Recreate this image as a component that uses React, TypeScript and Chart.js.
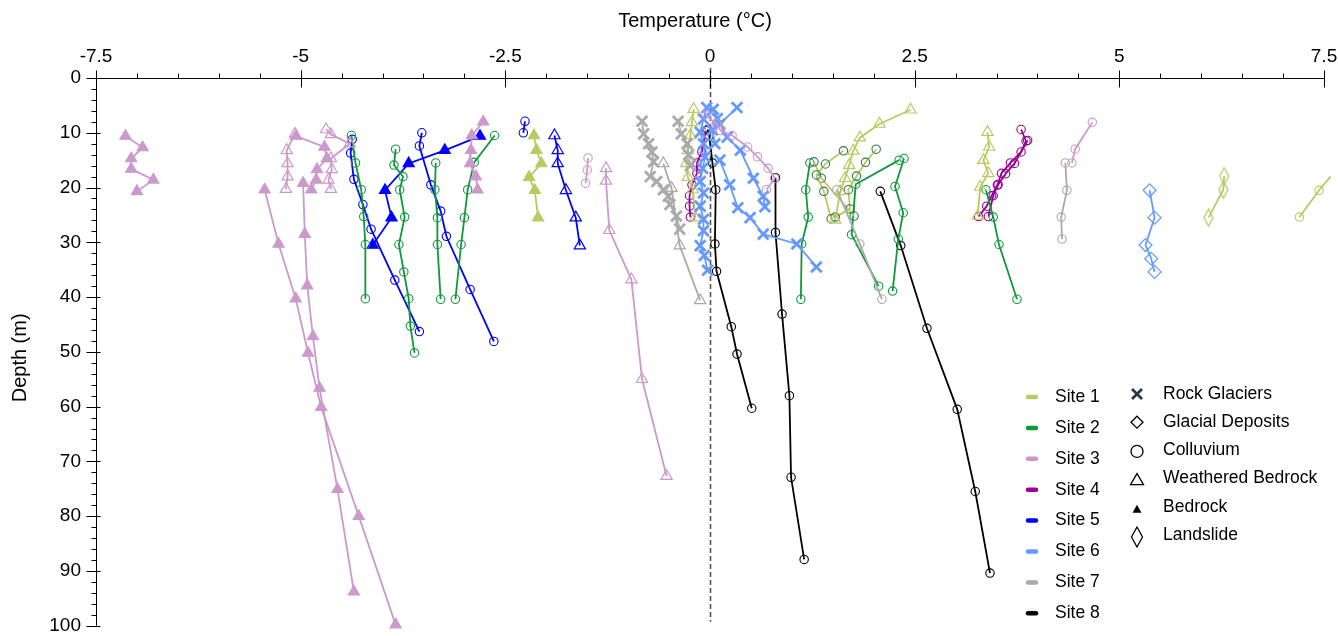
import React, { useEffect, useRef } from "react";
import { Chart, registerables } from "chart.js";
Chart.register(...registerables);

// ---------- axis / legend text ----------
const xTickValues = [-7.5, -5, -2.5, 0, 2.5, 5, 7.5];
const xTickLabels = ["-7.5", "-5", "-2.5", "0", "2.5", "5", "7.5"];
const yTickValues = [0, 10, 20, 30, 40, 50, 60, 70, 80, 90, 100];
const yTickLabels = ["0", "10", "20", "30", "40", "50", "60", "70", "80", "90", "100"];
const xTitle = "Temperature (°C)";
const yTitle = "Depth (m)";
const siteNames = ["Site 1", "Site 2", "Site 3", "Site 4", "Site 5", "Site 6", "Site 7", "Site 8"];
const siteColors = ["#B9CA62", "#0E9A3A", "#CC99CC", "#990099", "#0000FF", "#6699FF", "#AAAAAA", "#000000"];
const geologyNames = ["Rock Glaciers", "Glacial Deposits", "Colluvium", "Weathered Bedrock", "Bedrock", "Landslide"];

// ---------- Site 1 ----------
const s1BrT = [-2.15, -2.12, -2.06, -2.21, -2.14, -2.10];
const s1BrD = [10.5, 13.2, 15.6, 18.1, 20.5, 25.5];
const s1WbAT = [-0.20, -0.22, -0.24, -0.27, -0.29, -0.27, -0.21, -0.18];
const s1WbAD = [5.7, 8.1, 10.5, 13.2, 15.6, 18.1, 20.4, 25.5];
const s1WbBT = [2.45, 2.07, 1.83, 1.75, 1.70, 1.65, 1.59, 1.53];
const s1WbBD = [5.8, 8.4, 10.9, 13.3, 15.9, 18.3, 20.7, 25.9];
const s1WbCT = [3.39, 3.41, 3.34, 3.40, 3.30, 3.27];
const s1WbCD = [9.9, 12.6, 15.0, 17.4, 19.9, 25.2];
const s1CoAT = [1.63, 1.41, 1.30, 1.39, 1.48];
const s1CoAD = [13.3, 15.7, 17.7, 20.7, 25.7];
const s1CoBT = [2.03, 1.90, 1.79, 1.69, 1.71, 1.53];
const s1CoBD = [13.0, 15.4, 17.9, 20.4, 23.9, 25.4];
const s1CoCT = [1.27, 1.36, 1.76];
const s1CoCD = [15.3, 18.3, 25.2];
const s1CoDT = [7.58, 7.44, 7.20];
const s1CoDD = [18.0, 20.5, 25.4];
const s1LsT = [6.28, 6.27, 6.09];
const s1LsD = [17.9, 20.4, 25.5];

// ---------- Site 2 ----------
const s2CoAT = [-4.38, -4.33, -4.26, -4.23, -4.21, -4.21];
const s2CoAD = [10.5, 15.5, 20.4, 25.3, 30.4, 40.3];
const s2CoBT = [-3.84, -3.86, -3.75, -3.79, -3.73, -3.80, -3.74, -3.68, -3.66, -3.61];
const s2CoBD = [13.0, 15.9, 18.0, 20.4, 25.4, 30.4, 35.4, 40.3, 45.3, 50.2];
const s2CoCT = [-3.35, -3.36, -3.33, -3.33, -3.29];
const s2CoCD = [15.5, 20.4, 25.5, 30.4, 40.4];
const s2CoDT = [-2.63, -2.88, -2.96, -3.00, -3.04, -3.11];
const s2CoDD = [10.5, 15.4, 20.4, 25.5, 30.4, 40.4];
const s2CoET = [1.22, 1.17, 1.20, 1.12, 1.11];
const s2CoED = [15.5, 20.4, 25.4, 30.3, 40.4];
const s2CoFT = [2.31, 1.78, 1.73, 2.06];
const s2CoFD = [15.0, 19.4, 28.6, 38.0];
const s2CoGT = [2.37, 2.26, 2.36, 2.30, 2.23];
const s2CoGD = [14.7, 19.8, 24.6, 29.4, 38.9];
const s2CoHT = [3.37, 3.46, 3.53, 3.75];
const s2CoHD = [20.4, 25.4, 30.4, 40.4];

// ---------- Site 3 ----------
const s3BrAT = [-7.14, -6.93, -7.07, -7.07, -6.80, -7.00];
const s3BrAD = [10.6, 12.7, 14.7, 16.6, 18.6, 20.7];
const s3WbAT = [-5.07, -5.17, -5.16, -5.16, -5.18];
const s3WbAD = [10.2, 13.2, 15.6, 18.0, 20.3];
const s3BrBT = [-5.06, -4.71, -4.68, -4.80, -4.81, -4.87];
const s3BrBD = [10.6, 12.6, 14.7, 16.7, 18.6, 20.4];
const s3WbBT = [-4.69, -4.63, -4.40, -4.63, -4.62, -4.66, -4.63];
const s3WbBD = [9.4, 10.3, 12.0, 14.7, 16.7, 18.6, 20.3];
const s3BrCT = [-5.44, -5.27, -5.06, -4.91, -4.75, -4.29, -3.84];
const s3BrCD = [20.4, 30.3, 40.3, 50.2, 60.1, 80.0, 99.8];
const s3BrDT = [-4.97, -4.95, -4.92, -4.85, -4.77, -4.55, -4.35];
const s3BrDD = [19.2, 28.5, 37.9, 47.2, 56.6, 75.1, 93.8];
const s3BrET = [-2.77, -2.91, -2.92, -2.93, -2.86, -2.84];
const s3BrED = [8.0, 10.5, 13.2, 15.6, 18.0, 20.4];
const s3WbCT = [-1.27, -1.27, -1.23, -0.96, -0.83, -0.53];
const s3WbCD = [16.5, 18.8, 27.8, 36.8, 55.0, 72.7];
const s3CoAT = [-1.49, -1.50, -1.52];
const s3CoAD = [14.6, 16.8, 19.2];
const s3CoBT = [-0.05, 0.08, 0.13, 0.27, 0.46, 0.58, 0.71, 0.79, 0.69];
const s3CoBD = [6.7, 8.4, 9.6, 10.5, 12.6, 14.4, 16.5, 18.3, 20.4];
const s3CoCT = [4.67, 4.46, 4.42];
const s3CoCD = [8.1, 13.0, 15.5];

// ---------- Site 4 ----------
const s4CoAT = [-0.05, -0.10, -0.16, -0.16, -0.22, -0.25, -0.25, -0.24];
const s4CoAD = [9.6, 13.5, 15.5, 17.4, 19.5, 21.5, 23.4, 25.4];
const s4CoBT = [3.80, 3.86, 3.80, 3.67, 3.56, 3.51, 3.44, 3.38, 3.28];
const s4CoBD = [9.4, 11.5, 13.5, 15.5, 17.4, 19.5, 21.5, 23.4, 25.3];
const s4CoCT = [3.88, 3.72, 3.61, 3.52, 3.46, 3.40];
const s4CoCD = [11.4, 15.6, 17.5, 19.5, 21.5, 25.3];

// ---------- Site 5 ----------
const s5BrT = [-2.81, -3.24, -3.68, -3.97, -3.89, -4.12];
const s5BrD = [10.6, 13.2, 15.6, 20.5, 25.5, 30.5];
const s5CoAT = [-4.37, -4.39, -4.35, -4.24, -4.14, -3.85, -3.55];
const s5CoAD = [11.2, 13.7, 18.5, 23.1, 27.6, 36.9, 46.3];
const s5CoBT = [-3.52, -3.55, -3.41, -3.29, -3.22, -2.93, -2.64];
const s5CoBD = [10.0, 12.4, 19.5, 24.3, 28.9, 38.6, 48.1];
const s5CoCT = [-2.26, -2.28];
const s5CoCD = [7.9, 10.0];
const s5WbT = [-1.90, -1.86, -1.86, -1.76, -1.64, -1.59];
const s5WbD = [10.5, 13.2, 15.6, 20.5, 25.5, 30.6];

// ---------- Site 6 ----------
const s6RgAT = [-0.04, -0.08, -0.12, -0.08, -0.06, -0.09, -0.12, -0.08, -0.12, -0.08, -0.08, -0.12, -0.07, -0.03];
const s6RgAD = [5.4, 7.5, 9.9, 12.0, 14.4, 16.5, 18.9, 21.0, 23.4, 25.8, 27.9, 30.6, 32.4, 35.1];
const s6RgBT = [0.33, 0.12, 0.21, 0.37, 0.53, 0.65, 0.67];
const s6RgBD = [5.4, 8.4, 10.8, 13.2, 18.3, 21.6, 23.5];
const s6RgCT = [0.04, 0.09, 0.03, 0.06];
const s6RgCD = [5.7, 7.4, 9.5, 12.0];
const s6RgDT = [0.12, 0.24, 0.34, 0.49, 0.65, 1.06, 1.30];
const s6RgDD = [15.0, 19.5, 23.7, 25.5, 28.5, 30.3, 34.5];
const s6GdT = [5.37, 5.43, 5.32, 5.39, 5.43];
const s6GdD = [20.5, 25.5, 30.5, 33.0, 35.4];

// ---------- Site 7 ----------
const s7RgAT = [-0.83, -0.81, -0.75, -0.71, -0.69, -0.73, -0.65, -0.57, -0.51, -0.49, -0.41, -0.37];
const s7RgAD = [7.9, 10.2, 12.0, 13.5, 15.3, 18.0, 18.9, 20.4, 21.6, 23.1, 25.2, 27.6];
const s7RgBT = [-0.39, -0.35, -0.28, -0.26, -0.24];
const s7RgBD = [7.9, 10.2, 12.0, 14.0, 16.0];
const s7WbT = [-0.57, -0.47, -0.37, -0.12];
const s7WbD = [15.6, 20.1, 30.6, 40.6];
const s7CoAT = [1.55, 1.83, 2.10];
const s7CoAD = [20.4, 30.3, 40.4];
const s7CoBT = [4.34, 4.36, 4.29, 4.30];
const s7CoBD = [15.5, 20.5, 25.4, 29.4];

// ---------- Site 8 ----------
const s8CoAT = [-0.03, -0.01, 0.03, 0.07, 0.06, 0.08, 0.26, 0.33, 0.51];
const s8CoAD = [9.4, 10.5, 15.5, 20.4, 30.3, 35.3, 45.4, 50.4, 60.3];
const s8CoBT = [0.80, 0.80, 0.88, 0.97, 0.99, 1.15];
const s8CoBD = [18.2, 28.2, 43.1, 58.0, 72.9, 87.9];
const s8CoCT = [2.08, 2.33, 2.65, 3.02, 3.24, 3.42];
const s8CoCD = [20.7, 30.6, 45.7, 60.5, 75.5, 90.4];

type Kind = "RG" | "GD" | "CO" | "WB" | "BR" | "LS";
interface Profile { site: number; kind: Kind; t: number[]; d: number[]; marker?: string }

const profiles: Profile[] = [
  { site: 7, kind: "RG", t: s7RgAT, d: s7RgAD },
  { site: 7, kind: "RG", t: s7RgBT, d: s7RgBD },
  { site: 7, kind: "WB", t: s7WbT, d: s7WbD },
  { site: 7, kind: "CO", t: s7CoAT, d: s7CoAD },
  { site: 7, kind: "CO", t: s7CoBT, d: s7CoBD },
  { site: 3, kind: "BR", t: s3BrAT, d: s3BrAD },
  { site: 3, kind: "WB", t: s3WbAT, d: s3WbAD },
  { site: 3, kind: "BR", t: s3BrBT, d: s3BrBD },
  { site: 3, kind: "WB", t: s3WbBT, d: s3WbBD },
  { site: 3, kind: "BR", t: s3BrCT, d: s3BrCD },
  { site: 3, kind: "BR", t: s3BrDT, d: s3BrDD },
  { site: 3, kind: "BR", t: s3BrET, d: s3BrED },
  { site: 3, kind: "WB", t: s3WbCT, d: s3WbCD },
  { site: 3, kind: "CO", t: s3CoAT, d: s3CoAD },
  { site: 3, kind: "CO", t: s3CoBT, d: s3CoBD },
  { site: 3, kind: "CO", t: s3CoCT, d: s3CoCD },
  { site: 6, kind: "RG", t: s6RgAT, d: s6RgAD },
  { site: 6, kind: "RG", t: s6RgBT, d: s6RgBD },
  { site: 6, kind: "RG", t: s6RgCT, d: s6RgCD },
  { site: 6, kind: "RG", t: s6RgDT, d: s6RgDD },
  { site: 6, kind: "GD", t: s6GdT, d: s6GdD },
  { site: 1, kind: "BR", t: s1BrT, d: s1BrD },
  { site: 1, kind: "WB", t: s1WbAT, d: s1WbAD },
  { site: 1, kind: "WB", t: s1WbBT, d: s1WbBD },
  { site: 1, kind: "WB", t: s1WbCT, d: s1WbCD },
  { site: 1, kind: "CO", t: s1CoAT, d: s1CoAD, marker: "#2C7A4B" },
  { site: 1, kind: "CO", t: s1CoBT, d: s1CoBD, marker: "#2C7A4B" },
  { site: 1, kind: "CO", t: s1CoCT, d: s1CoCD, marker: "#2C7A4B" },
  { site: 1, kind: "CO", t: s1CoDT, d: s1CoDD },
  { site: 1, kind: "LS", t: s1LsT, d: s1LsD },
  { site: 2, kind: "CO", t: s2CoAT, d: s2CoAD },
  { site: 2, kind: "CO", t: s2CoBT, d: s2CoBD },
  { site: 2, kind: "CO", t: s2CoCT, d: s2CoCD },
  { site: 2, kind: "CO", t: s2CoDT, d: s2CoDD },
  { site: 2, kind: "CO", t: s2CoET, d: s2CoED },
  { site: 2, kind: "CO", t: s2CoFT, d: s2CoFD },
  { site: 2, kind: "CO", t: s2CoGT, d: s2CoGD },
  { site: 2, kind: "CO", t: s2CoHT, d: s2CoHD },
  { site: 5, kind: "BR", t: s5BrT, d: s5BrD },
  { site: 5, kind: "CO", t: s5CoAT, d: s5CoAD },
  { site: 5, kind: "CO", t: s5CoBT, d: s5CoBD },
  { site: 5, kind: "CO", t: s5CoCT, d: s5CoCD },
  { site: 5, kind: "WB", t: s5WbT, d: s5WbD },
  { site: 4, kind: "CO", t: s4CoAT, d: s4CoAD },
  { site: 4, kind: "CO", t: s4CoBT, d: s4CoBD },
  { site: 4, kind: "CO", t: s4CoCT, d: s4CoCD },
  { site: 8, kind: "CO", t: s8CoAT, d: s8CoAD },
  { site: 8, kind: "CO", t: s8CoBT, d: s8CoBD },
  { site: 8, kind: "CO", t: s8CoCT, d: s8CoCD },
];

const FONT = '"Liberation Sans", Arial, sans-serif';

function tallDiamond(color: string, w: number, h: number, lw: number) {
  const c = document.createElement("canvas");
  c.width = w;
  c.height = h;
  const g = c.getContext("2d")!;
  g.strokeStyle = color;
  g.lineWidth = lw;
  g.beginPath();
  g.moveTo(w / 2, 1);
  g.lineTo(w - 1, h / 2);
  g.lineTo(w / 2, h - 1);
  g.lineTo(1, h / 2);
  g.closePath();
  g.stroke();
  return c;
}

function makeDataset(p: Profile) {
  const color = siteColors[p.site - 1];
  const mColor = p.marker || color;
  const ds: any = {
    data: p.t.map((t, i) => ({ x: t, y: p.d[i] })),
    showLine: true,
    borderColor: color,
    borderWidth: 1.8,
    pointBorderColor: mColor,
    pointBackgroundColor: "rgba(0,0,0,0)",
    pointBorderWidth: 1.1,
    pointRadius: 4,
    pointHoverRadius: 4,
    clip: false,
  };
  if (p.kind === "RG") {
    ds.pointStyle = "crossRot";
    ds.pointRadius = 7.5;
    ds.pointHoverRadius = 7.5;
    ds.pointBorderWidth = 2.8;
  } else if (p.kind === "GD") {
    ds.pointStyle = "rectRot";
    ds.pointRadius = 6.5;
    ds.pointBorderWidth = 1.2;
  } else if (p.kind === "CO") {
    ds.pointStyle = "circle";
    ds.pointRadius = 4.2;
  } else if (p.kind === "WB") {
    ds.pointStyle = "triangle";
    ds.pointRadius = 6.5;
    ds.pointBorderWidth = 1.2;
  } else if (p.kind === "BR") {
    ds.pointStyle = "triangle";
    ds.pointRadius = 6.5;
    ds.pointBackgroundColor = color;
  } else if (p.kind === "LS") {
    ds.pointStyle = tallDiamond(color, 11, 19, 1.3);
  }
  return ds;
}

function line(ctx: CanvasRenderingContext2D, x1: number, y1: number, x2: number, y2: number) {
  ctx.beginPath();
  ctx.moveTo(x1, y1);
  ctx.lineTo(x2, y2);
  ctx.stroke();
}

const decorPlugin = {
  id: "decor",
  beforeDatasetsDraw(chart: any) {
    const { ctx, chartArea: a, scales } = chart;
    const x0 = Math.round(scales.x.getPixelForValue(0)) + 0.5;
    ctx.save();
    ctx.strokeStyle = "#555555";
    ctx.lineWidth = 1.6;
    ctx.setLineDash([5, 3]);
    line(ctx, x0, a.top - 10, x0, a.bottom - 4);
    ctx.restore();
  },
  afterDatasetsDraw(chart: any) {
    const { ctx, chartArea: a, scales } = chart;
    const xs = scales.x, ys = scales.y;
    ctx.save();
    ctx.strokeStyle = "#000";
    ctx.lineWidth = 1;
    // x axis
    const ay = Math.round(a.top) + 0.5;
    line(ctx, a.left, ay, a.right, ay);
    for (let i = 0; i <= 30; i++) {
      const v = -7.5 + i * 0.5;
      const px = Math.round(xs.getPixelForValue(v)) + 0.5;
      if (i % 5 === 0) line(ctx, px, ay - 8, px, ay + 9);
      else line(ctx, px, ay - 5, px, ay);
    }
    // y axis
    const ax = Math.round(a.left) + 0.5;
    line(ctx, ax, a.top, ax, a.bottom);
    for (let i = 0; i <= 50; i++) {
      const v = i * 2;
      const py = Math.round(ys.getPixelForValue(v)) + 0.5;
      if (i % 5 === 0) line(ctx, ax - 10, py, ax + 4, py);
      else line(ctx, ax - 5, py, ax, py);
    }
    ctx.fillStyle = "#000";
    ctx.font = `19px ${FONT}`;
    ctx.textAlign = "center";
    ctx.textBaseline = "middle";
    xTickValues.forEach((v, i) => ctx.fillText(xTickLabels[i], xs.getPixelForValue(v), a.top - 21));
    ctx.textAlign = "right";
    yTickValues.forEach((v, i) => ctx.fillText(yTickLabels[i], a.left - 15, ys.getPixelForValue(v)));
    // titles
    ctx.font = `20px ${FONT}`;
    ctx.textAlign = "center";
    ctx.fillText(xTitle, (a.left + a.right) / 2 - 15, 21);
    ctx.save();
    ctx.translate(20, (a.top + a.bottom) / 2 + 6);
    ctx.rotate(-Math.PI / 2);
    ctx.fillText(yTitle, 0, 0);
    ctx.restore();

    // legend: sites
    ctx.font = `17.5px ${FONT}`;
    ctx.textAlign = "left";
    ctx.lineCap = "round";
    siteNames.forEach((name, i) => {
      const y = 397 + i * 30.9;
      ctx.strokeStyle = siteColors[i];
      ctx.lineWidth = 4.5;
      line(ctx, 1028, y, 1036, y);
      ctx.fillStyle = "#000";
      ctx.fillText(name, 1055, y);
    });
    // legend: geology
    ctx.lineCap = "butt";
    const mx = 1137;
    geologyNames.forEach((name, i) => {
      const y = 394 + i * 28.2;
      ctx.fillStyle = "#000";
      ctx.fillText(name, 1163, y);
      ctx.strokeStyle = "#000";
      ctx.lineWidth = 1.3;
      if (i === 0) {
        ctx.strokeStyle = "#26324E";
        ctx.lineWidth = 2.6;
        line(ctx, mx - 5, y - 5, mx + 5, y + 5);
        line(ctx, mx - 5, y + 5, mx + 5, y - 5);
      } else if (i === 1) {
        ctx.beginPath();
        ctx.moveTo(mx, y - 6); ctx.lineTo(mx + 6, y); ctx.lineTo(mx, y + 6); ctx.lineTo(mx - 6, y);
        ctx.closePath(); ctx.stroke();
      } else if (i === 2) {
        ctx.beginPath(); ctx.arc(mx, y + 1, 6, 0, Math.PI * 2); ctx.stroke();
      } else if (i === 3) {
        ctx.beginPath();
        ctx.moveTo(mx, y - 5); ctx.lineTo(mx + 6.5, y + 6); ctx.lineTo(mx - 6.5, y + 6);
        ctx.closePath(); ctx.stroke();
      } else if (i === 4) {
        ctx.beginPath();
        ctx.moveTo(mx, y - 2); ctx.lineTo(mx + 4.5, y + 6); ctx.lineTo(mx - 4.5, y + 6);
        ctx.closePath(); ctx.fill();
      } else {
        ctx.beginPath();
        ctx.moveTo(mx, y - 8); ctx.lineTo(mx + 5.5, y + 2); ctx.lineTo(mx, y + 12); ctx.lineTo(mx - 5.5, y + 2);
        ctx.closePath(); ctx.stroke();
      }
    });
    ctx.restore();
  },
};

export default function App() {
  const ref = useRef<HTMLCanvasElement>(null);
  useEffect(() => {
    const chart = new Chart(ref.current!, {
      type: "scatter",
      data: { datasets: profiles.map(makeDataset) },
      options: {
        animation: false,
        responsive: false,
        events: [],
        layout: { padding: { left: 96, top: 78, right: 14, bottom: 5 } },
        plugins: { legend: { display: false }, tooltip: { enabled: false } },
        scales: {
          x: { type: "linear", display: false, min: -7.5, max: 7.5 },
          y: { type: "linear", display: false, min: 0, max: 100, reverse: true },
        },
      },
      plugins: [decorPlugin],
    } as any);
    return () => chart.destroy();
  }, []);
  return (
    <div style={{ position: "absolute", left: 0, top: 0, width: 1338, height: 636, background: "#fff", overflow: "hidden" }}>
      <canvas ref={ref} width={1338} height={636} style={{ display: "block", width: 1338, height: 636 }} />
    </div>
  );
}
